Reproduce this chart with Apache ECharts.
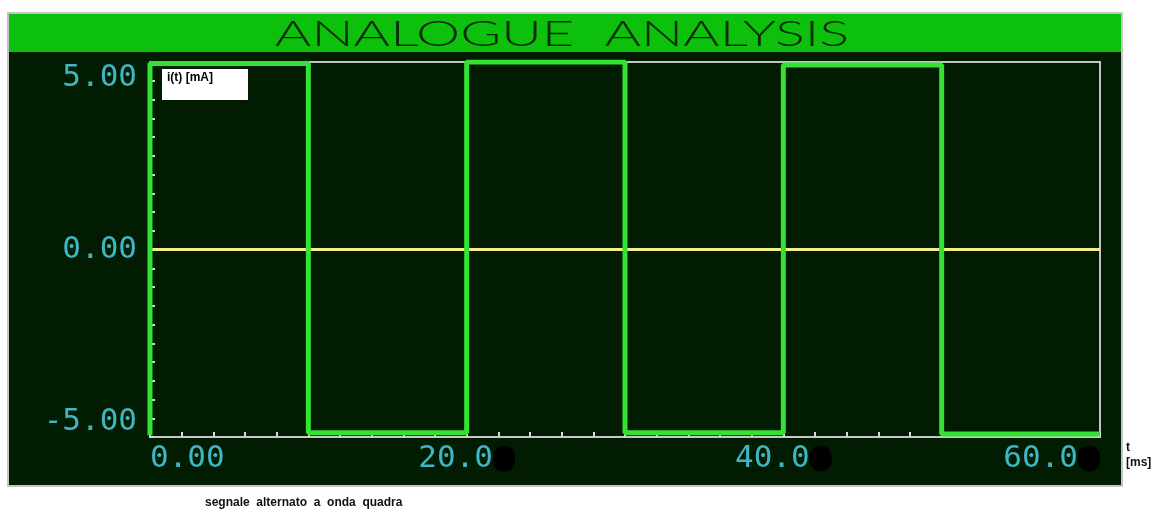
<!DOCTYPE html>
<html>
<head>
<meta charset="utf-8">
<style>
  html, body { margin: 0; padding: 0; background: #fff; }
  #main { width: 1162px; height: 513px; }
</style>
<script src="https://cdn.jsdelivr.net/npm/echarts@6/dist/echarts.min.js"></script>
</head>
<body>
<div id="main"></div>
<script>
// square wave, t in ms, i in mA
var tValues = [0, 0, 10, 10, 20, 20, 30, 30, 40, 40, 50, 50, 60];
var iValues = [-5.4, 5.41, 5.41, -5.33, -5.33, 5.45, 5.45, -5.33, -5.33, 5.36, 5.36, -5.36, -5.36];
var zeroT = [0, 60];
var zeroI = [0, 0];
var xLabels = [0, 20, 40, 60];
var yLabels = [-5, 0, 5];
var seriesName = 'i(t) [mA]';

var cyan = '#3fb6c4';
var dark = '#021c02';

var chart = echarts.init(document.getElementById('main'));

var option = {
  backgroundColor: '#fff',
  animation: false,
  graphic: [
    {
      type: 'rect', z: -10,
      shape: { x: 8, y: 13, width: 1114, height: 473 },
      style: { fill: dark, stroke: '#c4c4c4', lineWidth: 2 }
    },
    {
      type: 'rect', z: -9,
      shape: { x: 9, y: 14, width: 1112, height: 38 },
      style: { fill: '#0cc00c' }
    },
    {
      type: 'text', z: -8,
      x: 562, y: 34, scaleX: 1.55,
      style: {
        text: 'ANALOGUE  ANALYSIS',
        font: '300 36px Lato',
        fill: '#0a2a0a',
        align: 'center',
        verticalAlign: 'middle'
      }
    },
    {
      type: 'text',
      left: 205, top: 497,
      style: {
        text: 'segnale  alternato  a  onda  quadra',
        font: 'bold 12px "Liberation Sans", Arial',
        fill: '#111'
      }
    }
  ],
  legend: {
    data: [seriesName],
    icon: 'none',
    itemWidth: 0,
    itemHeight: 10,
    left: 162, top: 69,
    backgroundColor: '#fff',
    padding: [3, 35, 16, 0],
    selectedMode: false,
    textStyle: { color: '#000', fontWeight: 'bold', fontSize: 12, fontFamily: '"Liberation Sans", Arial' }
  },
  grid: {
    left: 150, right: 62, top: 62, bottom: 76,
    show: true,
    backgroundColor: dark,
    borderColor: '#c4c4c4',
    borderWidth: 2
  },
  xAxis: {
    type: 'value',
    min: 0, max: 60, interval: 2,
    name: 't\n[ms]',
    nameLocation: 'end',
    nameGap: 26,
    nameTextStyle: {
      color: '#111', fontWeight: 'bold', fontSize: 12,
      fontFamily: '"Liberation Sans", Arial',
      align: 'left', verticalAlign: 'top', lineHeight: 15,
      padding: [3, 0, 0, 0]
    },
    axisLine: { onZero: false, lineStyle: { color: '#c8c8c8', width: 2 } },
    axisTick: { inside: true, length: 5, lineStyle: { color: '#d8d8d8', width: 2 } },
    splitLine: { show: false },
    axisLabel: {
      customValues: xLabels,
      margin: 6,
      alignMinLabel: 'left',
      alignMaxLabel: 'right',
      formatter: function (v) {
        if (v === 0) return '{a|0.00}';
        return '{a|' + v.toFixed(1) + '}{b|}';
      },
      rich: {
        a: { color: cyan, fontSize: 31, fontFamily: '"DejaVu Sans Mono"' },
        b: { backgroundColor: '#000', width: 22, height: 26, borderRadius: 11 }
      }
    }
  },
  yAxis: {
    type: 'value',
    min: -5.45, max: 5.45, interval: 0.545,
    axisLine: { lineStyle: { color: '#c8c8c8', width: 2 } },
    axisTick: { inside: true, length: 5, lineStyle: { color: '#d8d8d8', width: 2 } },
    splitLine: { show: false },
    axisLabel: {
      customValues: yLabels,
      margin: 13,
      color: cyan,
      fontSize: 31,
      fontFamily: '"DejaVu Sans Mono"',
      formatter: function (v) { return v.toFixed(2); }
    }
  },
  series: [
    {
      name: 'zero',
      type: 'line',
      data: zeroT.map(function (t, k) { return [t, zeroI[k]]; }),
      symbol: 'none',
      silent: true,
      z: 1,
      lineStyle: { color: '#f2ee88', width: 3 }
    },
    {
      name: seriesName,
      type: 'line',
      data: tValues.map(function (t, k) { return [t, iValues[k]]; }),
      symbol: 'none',
      z: 3,
      lineStyle: { color: '#33e233', width: 5 },
      itemStyle: { color: '#33e233' }
    }
  ]
};

chart.setOption(option);
</script>
</body>
</html>
